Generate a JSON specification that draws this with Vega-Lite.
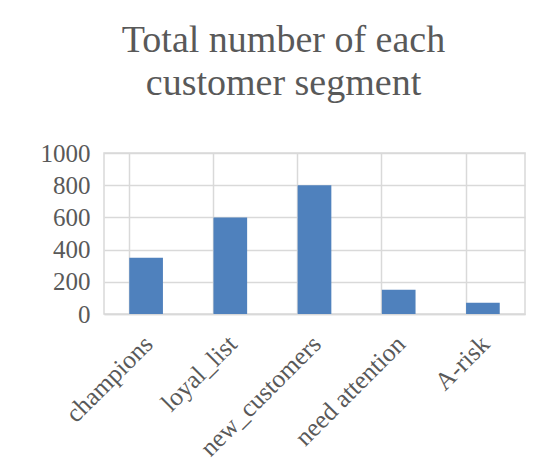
{
  "$schema": "https://vega.github.io/schema/vega-lite/v6.json",
  "width": 421,
  "height": 161,
  "autosize": {"type": "none"},
  "padding": {"left": 104, "top": 153, "right": 15, "bottom": 158},
  "background": "white",
  "title": {
    "text": ["Total number of each", "customer segment"],
    "font": "Liberation Serif",
    "fontSize": 38,
    "fontWeight": "normal",
    "color": "#595959",
    "anchor": "middle",
    "lineHeight": 43,
    "offset": 38,
    "dx": -31
  },
  "data": {
    "values": [
      {"segment": "champions", "count": 350},
      {"segment": "loyal_list", "count": 600},
      {"segment": "new_customers", "count": 800},
      {"segment": "need attention", "count": 150},
      {"segment": "A-risk", "count": 70}
    ]
  },
  "mark": {"type": "bar", "color": "#4f81bd"},
  "encoding": {
    "x": {
      "field": "segment",
      "type": "nominal",
      "sort": null,
      "scale": {"paddingInner": 0.6, "paddingOuter": 0.3},
      "axis": {
        "title": null,
        "labelAngle": -45,
        "labelFont": "Liberation Serif",
        "labelFontSize": 25.5,
        "labelColor": "#595959",
        "labelPadding": 17,
        "labelOffset": -6,
        "ticks": false,
        "domainColor": "#d9d9d9",
        "domainWidth": 1.5,
        "grid": true,
        "gridColor": "#d9d9d9",
        "gridWidth": 1.5,
        "bandPosition": 0
      }
    },
    "y": {
      "field": "count",
      "type": "quantitative",
      "scale": {"domain": [0, 1000]},
      "axis": {
        "title": null,
        "values": [0, 200, 400, 600, 800, 1000],
        "format": "d",
        "labelFont": "Liberation Serif",
        "labelFontSize": 25,
        "labelColor": "#595959",
        "labelPadding": 14,
        "ticks": false,
        "domain": false,
        "gridColor": "#d9d9d9",
        "gridWidth": 1.5
      }
    }
  },
  "config": {
    "view": {"stroke": "#d9d9d9", "strokeWidth": 1.5}
  }
}
